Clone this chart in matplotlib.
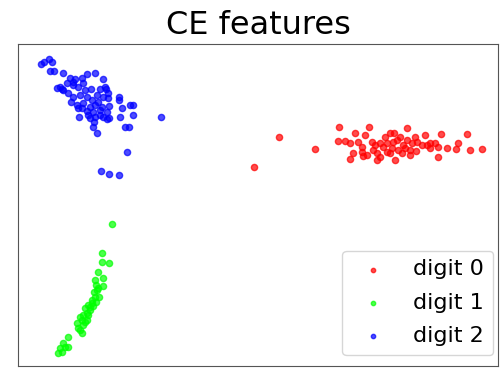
import matplotlib
matplotlib.use("Agg")
import matplotlib.pyplot as plt
import numpy as np

# 2-D embedding of the CE features, one cluster per digit
d0_x = [254, 279, 315, 339.3, 338.3, 345, 355, 350, 358.3, 365, 369.3, 350, 353.3, 361.7,
        362.7, 371.7, 373.3, 376.7, 376.7, 380, 385, 386.7, 390, 394.3, 386.7, 391.7, 395,
        396.7, 400, 398.3, 403.3, 407.3, 406.7, 410, 410, 415, 416.7, 416, 421.7, 425, 426.7,
        430, 435, 438.3, 440.7, 438.3, 447.3, 456, 458.3, 467.3, 470, 482.3, 383.3, 393.3,
        401.7, 405, 380, 390, 375, 361.7, 366.7, 411.7, 430]
d0_y = [166.7, 136.7, 149.3, 127.3, 140.7, 140.7, 133.3, 142.7, 141.7, 135, 127.3, 159.3,
        153.3, 151.7, 156, 141.7, 150, 160, 152.7, 142.7, 136.7, 143.3, 133.3, 132.7, 151.7,
        148.3, 160, 140, 136.7, 150, 145, 128.3, 140, 150, 155, 136.7, 141.7, 150.7, 145, 135,
        145, 143.3, 143.3, 146.7, 134, 156.7, 148.3, 149.3, 142.7, 134.3, 150, 149.3, 146.7,
        141.7, 153.3, 148.3, 156.7, 153.3, 145, 146.7, 155, 143.3, 148.3]

d1_x = [111.7, 101.7, 102.3, 109.3, 98.3, 95, 102.7, 96, 103.3, 96.7, 95, 99.3, 91.7, 96,
        88.3, 93.3, 85, 90, 83.3, 88.3, 81.7, 86.7, 76.7, 83.3, 78.3, 81.7, 68.3, 63.3, 68.3,
        60, 61.7, 58.3, 91.7, 86.7, 80, 85, 90, 98.3, 94, 80, 65]
d1_y = [224, 252.7, 261.7, 262.7, 271.7, 280, 278.3, 285, 286, 290, 296.7, 296.7, 300,
        301.7, 305, 306, 308.3, 310, 315, 315, 320, 320, 323.3, 325, 328.3, 333.3, 336.7,
        343.3, 346.7, 348.3, 351.7, 353.3, 303.3, 313.3, 316.7, 321.7, 306.7, 288.3, 291.7,
        330, 346.7]

d2_x = [40.7, 44, 49.3, 52.3, 50, 54.3, 63.3, 70, 75, 81.7, 86.7, 95, 102.7, 57.3, 61.7,
        66.7, 72.7, 78.3, 83.3, 90.7, 100, 106, 108.3, 68.3, 73.3, 80, 86.7, 96.7, 103.3,
        108.3, 119, 119.3, 70.7, 76.7, 83.3, 90, 95, 101.7, 109.3, 130, 133.3, 121.7, 78.3,
        86.7, 93.3, 100, 106.7, 132.7, 120, 79.3, 90, 95, 103.3, 107.3, 109.3, 94, 92.7, 125,
        129.3, 97.3, 160.7, 127.3, 101, 109.3, 119.3, 85, 91.7, 98.3, 73.3, 81.7, 88.3, 100,
        105, 63.3, 60]
d2_y = [64, 61.7, 59.3, 62.3, 70.7, 70.7, 72.7, 78.3, 79.3, 78.3, 74.3, 72.7, 79.3, 88.3,
        89.3, 83.3, 85, 86.7, 83.3, 89, 89.3, 89.3, 93.3, 93.3, 96.7, 95, 96.7, 95, 96.7,
        98.3, 96.7, 100, 101.7, 105, 103.3, 106.7, 105, 106.7, 106, 105, 105, 108.3, 108.3,
        110.7, 111.7, 110, 111.7, 115, 116.7, 117.3, 118.3, 117.3, 117.3, 119.3, 118.3, 121.7,
        127.3, 126.7, 126.7, 133.3, 117.3, 151.7, 171, 174, 175, 90, 100, 101.7, 81.7, 108.3,
        115, 115, 86.7, 90, 86.7]

labels = ["digit 0", "digit 1", "digit 2"]
colors = ["red", "lime", "blue"]

fig = plt.figure(figsize=(5, 3.68), dpi=100)
ax = fig.add_axes([18 / 500, 1 - 366 / 368, 480 / 500, 322 / 368])

for xs, ys, c, lab in zip([d0_x, d1_x, d2_x], [d0_y, d1_y, d2_y], colors, labels):
    ax.scatter(xs, ys, s=20, c=c, alpha=0.7, label=lab)

ax.set_xlim(18, 498)
ax.set_ylim(366, 44)
ax.set_xticks([])
ax.set_yticks([])
for sp in ax.spines.values():
    sp.set_color("#555555")

ax.set_title("CE features", fontsize=23, pad=7)
ax.legend(loc="lower right", fontsize=16, markerscale=0.7, labelspacing=0.6,
          borderaxespad=0, bbox_to_anchor=(493 / 500, 1 - 355 / 368),
          bbox_transform=fig.transFigure)

fig.savefig("out.png", dpi=100)
